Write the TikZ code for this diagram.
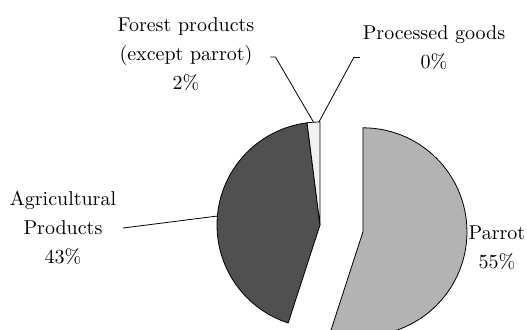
\documentclass[tikz,border=0pt]{standalone}
\usetikzlibrary{positioning}

\definecolor{parrot gray}{HTML}{B3B3B3}
\definecolor{agri gray}{HTML}{505050}
\definecolor{forest gray}{HTML}{F2F2F2}

\begin{document}
\begin{tikzpicture}[x=0.5pt,y=0.5pt]
\tikzstyle{label text}=[align=center,font={\fontsize{10}{14.5}\selectfont}]
\tikzstyle{slice}=[draw=black,line width=0.4pt,line join=round]
\tikzstyle{leader}=[draw=black,line width=0.4pt]

\useasboundingbox (0,0) rectangle (527,329);

% pie, non exploded part
\begin{scope}[shift={(320,104)}]
 \filldraw[slice,fill=agri gray] (0,0) -- (97.2:103) arc[start angle=97.2,end angle=252,radius=103] -- cycle;
 \filldraw[slice,fill=forest gray] (0,0) -- (90:103) arc[start angle=90,end angle=97.2,radius=103] -- cycle;
 \coordinate (agri tip) at (175:103);
 \coordinate (forest tip) at (93.6:103);
 \coordinate (proc tip) at (90.6:103);
 % parrot slice, pulled out
 \begin{scope}[shift={(-9:43.5)}]
  \filldraw[slice,fill=parrot gray] (0,0) -- (90:104) arc[start angle=90,end angle=-108,radius=104] -- cycle;
 \end{scope}
\end{scope}

\node[label text] (agri) at (63,101) {Agricultural\\Products\\43\%};
\node[label text] (forest) at (186,275) {Forest products\\(except parrot)\\2\%};
\node[label text] (processed) at (434,281.5) {Processed goods\\0\%};
\node[label text] (parrot) at (497,81.5) {Parrot\\55\%};

\draw[leader] (agri.east) -- (agri tip);
\draw[leader] (forest.east) ++(9,-3) -- ++(5,0) -- (forest tip);
\draw[leader] (processed.west) ++(4,-10) -- ++(-6,0) -- (proc tip);
%\draw[leader] (parrot.west) -- (parrot tip);
\end{tikzpicture}
\end{document}
